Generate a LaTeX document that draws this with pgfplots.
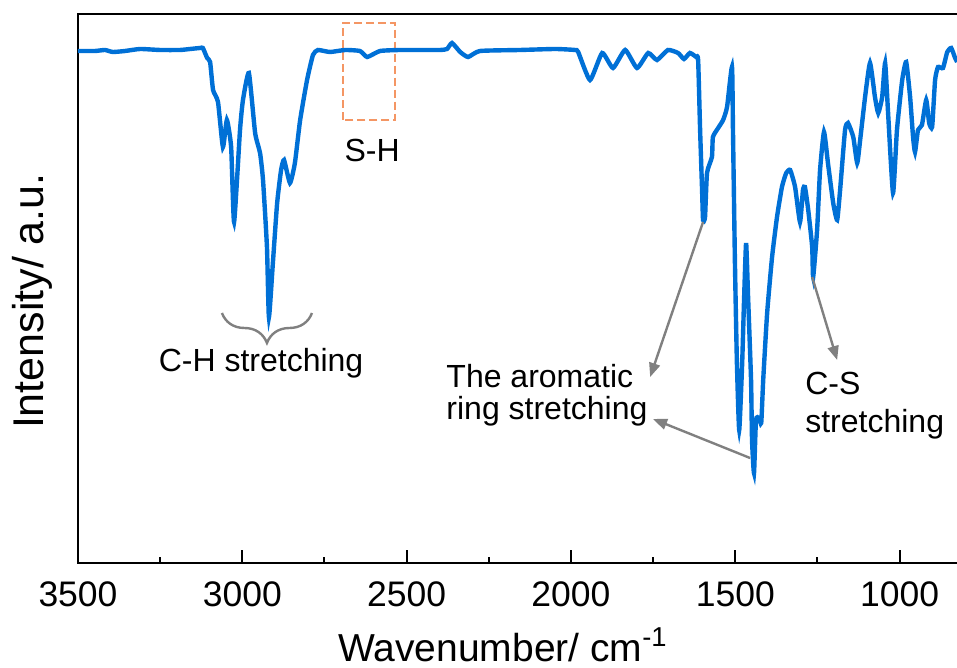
\documentclass[border=0pt]{standalone}
\usepackage{pgfplots}
\pgfplotsset{compat=1.18}
\usepackage{fontspec}
\setmainfont{Liberation Sans}
\usetikzlibrary{arrows.meta,decorations.pathreplacing}
\definecolor{specblue}{RGB}{0,112,214}
\definecolor{boxorange}{RGB}{244,150,100}
\definecolor{annogray}{RGB}{128,128,128}
\newcommand{\anno}{\fontsize{16}{19}\selectfont}
\begin{document}
\begin{tikzpicture}
\path[use as bounding box] (0,0) rectangle (478.5pt,334pt);
\begin{axis}[
  at={(39pt,52.5pt)}, anchor=south west,
  scale only axis, width=446.95pt, height=274.5pt,
  x dir=reverse, xmin=780, xmax=3500, ymin=0, ymax=549,
  xtick={1000,1500,...,3500}, minor x tick num=1,
  ytick=\empty,
  xtick pos=left, tick align=inside,
  major tick length=6.5pt, minor tick length=3pt,
  every tick/.style={black, line width=1pt},
  axis line style={line width=1.1pt},
  scaled x ticks=false,
  /pgf/number format/assume math mode=true,
  /pgf/number format/1000 sep={},
  xticklabel style={font=\fontsize{17.75}{20}\selectfont, anchor=base, yshift=-22pt},
  xlabel={Wavenumber/ cm\textsuperscript{-1}},
  ylabel={Intensity/ a.u.},
  xlabel style={font=\fontsize{19.5}{22}\selectfont, at={(axis description cs:0.4754,-0.1803)}, anchor=base},
  ylabel style={font=\fontsize{21.5}{24}\selectfont, at={(axis description cs:-0.0381,0.477)}, anchor=base},
]
\draw[boxorange, line width=1pt, dash pattern=on 4pt off 2pt] (axis cs:2694,443) rectangle (axis cs:2535,540);
\addplot[specblue, line width=2.2pt, smooth, tension=0.3] table {
x y
3500 512
3448 512
3418 513
3394 511
3357 512
3311 514
3250 513
3190 513
3159 514
3129 515
3120 515
3107 505
3098 501
3089 473
3074 461
3059 416
3047 443
3034 416
3025 341
3007 433
2998 463
2980 490
2961 430
2946 410
2937 383
2925 316
2919 246
2907 300
2894 360
2882 393
2873 403
2855 380
2840 400
2824 443
2803 483
2785 508
2770 513
2733 511
2687 513
2642 512
2620 506
2581 512
2520 513
2459 513
2398 513
2377 514
2362 520
2337 511
2313 506
2277 512
2155 513
2048 514
1988 513
1978 511
1942 483
1905 510
1872 495
1835 513
1799 495
1765 510
1738 503
1705 513
1674 510
1656 504
1638 510
1619 506
1613 503
1607 433
1601 373
1598 343
1592 346
1586 390
1571 406
1568 426
1552 435
1537 443
1525 456
1510 496
1507 433
1501 300
1495 200
1488 133
1479 200
1473 266
1467 320
1461 266
1452 183
1449 123
1443 90
1437 143
1428 145
1421 140
1415 183
1403 250
1388 306
1373 346
1358 376
1345 390
1333 393
1318 376
1303 341
1294 373
1288 376
1278 353
1266 316
1263 286
1251 333
1242 393
1230 431
1218 400
1202 360
1190 343
1181 373
1166 433
1157 440
1141 426
1129 400
1120 423
1105 466
1090 500
1075 466
1065 450
1053 466
1044 500
1035 450
1020 370
1008 433
992 483
980 501
968 466
959 426
953 411
944 433
932 438
919 463
910 440
901 436
892 483
883 496
868 495
855 511
843 515
831 505
825 501
};
\node[anchor=base, inner sep=0pt, font=\anno] at (axis cs:2605,401) {S-H};
\draw[annogray, line width=1.2pt, decorate, decoration={brace, amplitude=15pt}] (axis cs:2788,250) -- (axis cs:3062,250);
\node[anchor=base, inner sep=0pt, font=\anno] at (axis cs:2943,191) {C-H stretching};
\node[anchor=base west, inner sep=0pt, font=\anno] at (axis cs:2380,175) {The aromatic};
\node[anchor=base west, inner sep=0pt, font=\anno] at (axis cs:2380,143) {ring stretching};
\node[anchor=base west, inner sep=0pt, font=\anno] at (axis cs:1288,168) {C-S};
\node[anchor=base west, inner sep=0pt, font=\anno] at (axis cs:1288,130) {stretching};
\draw[annogray, line width=1.2pt, -{Triangle[length=7pt,width=5.5pt]}] (axis cs:1598,341) -- (axis cs:1759,186);
\draw[annogray, line width=1.2pt, -{Triangle[length=7pt,width=5.5pt]}] (axis cs:1455,105) -- (axis cs:1750,144);
\draw[annogray, line width=1.2pt, -{Triangle[length=7pt,width=5.5pt]}] (axis cs:1266,286) -- (axis cs:1190,203);
\end{axis}
\end{tikzpicture}
\end{document}
